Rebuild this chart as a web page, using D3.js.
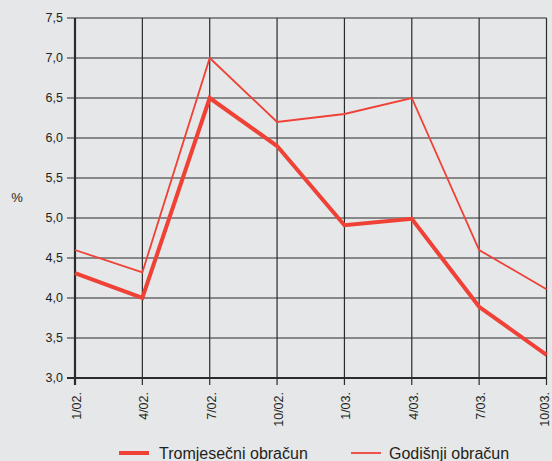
<!DOCTYPE html>
<html><head><meta charset="utf-8">
<script src="https://cdn.jsdelivr.net/npm/d3@7"></script>
<style>
html,body{margin:0;padding:0;background:#e6e7e8;}
svg{display:block;font-family:"Liberation Sans",Arial,sans-serif;}
</style></head>
<body>
<script>
const categories = ["1/02.","4/02.","7/02.","10/02.","1/03.","4/03.","7/03.","10/03."];
const tromjesecni = [4.31, 4.0, 6.5, 5.9, 4.91, 4.99, 3.89, 3.29];
const godisnji = [4.6, 4.32, 7.0, 6.2, 6.3, 6.5, 4.6, 4.11];
const yTicks = [3.0,3.5,4.0,4.5,5.0,5.5,6.0,6.5,7.0,7.5];
const seriesNames = ["Tromjesečni obračun","Godišnji obračun"];

const W=552,H=461;
const m={l:75,r:5.5,t:18,b:83};
const svg=d3.select("body").append("svg").attr("width",W).attr("height",H);
svg.append("rect").attr("width",W).attr("height",H).attr("fill","#e6e7e8");

const x=d3.scalePoint().domain(categories).range([m.l,W-m.r]);
const y=d3.scaleLinear().domain([3,7.5]).range([H-m.b,m.t]);
const gridColor="#2b2b2b";
const fmt=d=>d.toFixed(1).replace(".",",");

// horizontal grid + ticks
svg.append("g").selectAll("line").data(yTicks).join("line")
  .attr("x1",m.l-8).attr("x2",W-m.r)
  .attr("y1",d=>y(d)).attr("y2",d=>y(d))
  .attr("stroke",gridColor).attr("stroke-width",d=>d===3?2.2:1.2);
// vertical grid + ticks
svg.append("g").selectAll("line").data(categories).join("line")
  .attr("x1",d=>x(d)).attr("x2",d=>x(d))
  .attr("y1",m.t).attr("y2",H-m.b+7)
  .attr("stroke",gridColor).attr("stroke-width",(d,i)=>i===0?2.2:1.2);

// y labels
svg.append("g").selectAll("text").data(yTicks).join("text")
  .attr("x",m.l-12).attr("y",d=>y(d)).attr("dy","0.35em")
  .attr("text-anchor","end").attr("font-size",12.5).attr("fill","#231f20")
  .text(fmt);
// x labels
svg.append("g").selectAll("text").data(categories).join("text")
  .attr("transform",d=>`translate(${Math.min(x(d)+6,549)},${H-m.b+14}) rotate(-90)`)
  .attr("text-anchor","end").attr("font-size",12.5).attr("fill","#231f20")
  .text(d=>d);
// % label
svg.append("text").attr("x",17).attr("y",202).attr("text-anchor","middle")
  .attr("font-size",13).attr("fill","#231f20").text("%");

const red="#ef4136";
const line=d3.line().x((d,i)=>x(categories[i])).y(d=>y(d));
svg.append("path").datum(godisnji).attr("d",line).attr("fill","none")
  .attr("stroke",red).attr("stroke-width",1.8).attr("stroke-linejoin","miter");
svg.append("path").datum(tromjesecni).attr("d",line).attr("fill","none")
  .attr("stroke",red).attr("stroke-width",4).attr("stroke-linejoin","miter");

// legend
const leg=[{x1:119,x2:149,w:4,tx:159},{x1:351,x2:381,w:1.8,tx:389}];
leg.forEach((l,i)=>{
  svg.append("line").attr("x1",l.x1).attr("x2",l.x2).attr("y1",453).attr("y2",453)
    .attr("stroke",red).attr("stroke-width",l.w);
  svg.append("text").attr("x",l.tx).attr("y",453).attr("dy","0.35em")
    .attr("font-size",16).attr("fill","#231f20").text(seriesNames[i]);
});
</script>
</body></html>
